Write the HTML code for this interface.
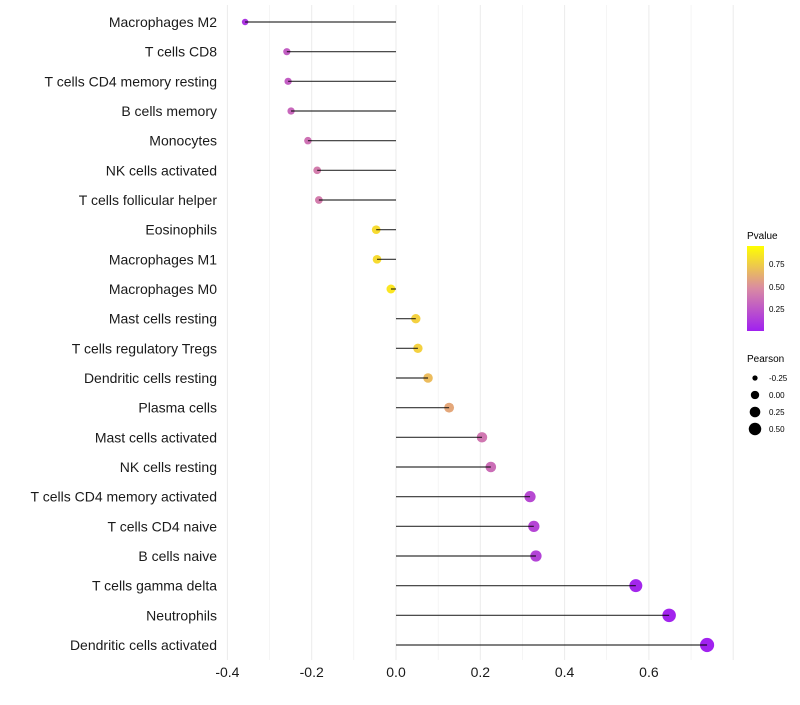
<!DOCTYPE html>
<html><head><meta charset="utf-8"><style>
body{margin:0;background:#fff;font-family:"Liberation Sans",sans-serif}
</style></head><body>
<svg id="chart" width="800" height="700" xmlns="http://www.w3.org/2000/svg" font-family="Liberation Sans, sans-serif">
<defs><linearGradient id="pg" x1="0" y1="1" x2="0" y2="0">
<stop offset="0" stop-color="#a020f0"/><stop offset="0.5" stop-color="#d98aa3"/><stop offset="1" stop-color="#ffff00"/>
</linearGradient></defs>
<g id="grid"></g>
<g id="dots"></g>
<g id="marks"></g>
<g id="labels" style="white-space:pre"></g>
<g id="xt"></g>
<g>
<text x="747" y="239" font-size="10">Pvalue</text>
<rect x="747" y="246" width="17" height="85" fill="url(#pg)"/>
<g font-size="8"><text x="769" y="267">0.75</text><text x="769" y="290">0.50</text><text x="769" y="312">0.25</text></g>
</g>
<g id="sleg">
<text x="747" y="362" font-size="10">Pearson</text>
</g>
</svg>
<script>
const cats=["Macrophages M2","T cells CD8","T cells CD4 memory resting","B cells memory","Monocytes","NK cells activated","T cells follicular helper","Eosinophils","Macrophages M1","Macrophages M0","Mast cells resting","T cells regulatory  Tregs","Dendritic cells resting","Plasma cells","Mast cells activated","NK cells resting","T cells CD4 memory activated","T cells CD4 naive","B cells naive","T cells gamma delta","Neutrophils","Dendritic cells activated"];
const pearson=[-0.358,-0.259,-0.256,-0.249,-0.209,-0.187,-0.183,-0.047,-0.045,-0.012,0.047,0.052,0.076,0.126,0.204,0.225,0.318,0.327,0.332,0.569,0.648,0.738];
const pvalue=[0.1,0.3,0.3,0.35,0.4,0.45,0.45,0.9,0.9,0.95,0.85,0.85,0.75,0.65,0.42,0.38,0.2,0.18,0.17,0.03,0.02,0.01];
const xticks=[-0.4,-0.2,0,0.2,0.4,0.6];
const xtickLabels=["-0.4","-0.2","0.0","0.2","0.4","0.6"];
const legVals=[-0.25,0,0.25,0.5];
const legLabels=["-0.25","0.00","0.25","0.50"];
const NS="http://www.w3.org/2000/svg";
const X=v=>396+v*421.5;
const Y=i=>22+i*(623/(cats.length-1));
const R=v=>Math.max(2,4.5+3.5*v);
const RL=v=>Math.sqrt(Math.max(1,17.5+42.65*v));
function lerp(a,b,t){return a.map((x,i)=>Math.round(x+(b[i]-x)*t));}
function col(p){const c0=[160,32,240],c1=[217,135,165],c2=[255,240,20];
 const c=p<0.5?lerp(c0,c1,p/0.5):lerp(c1,c2,(p-0.5)/0.5);return `rgb(${c})`;}
function mk(t,a,parent){const e=document.createElementNS(NS,t);for(const k in a)e.setAttribute(k,a[k]);parent.appendChild(e);return e;}
const grid=document.getElementById('grid');
for(let v=-0.4;v<=0.81;v+=0.1){const l=mk('line',{x1:X(v),x2:X(v),y1:5,y2:660,stroke:'#ebebeb','stroke-width':Math.abs(Math.round(v*10))%2===0?1:0.5},grid);

}
const dots=document.getElementById('dots'),marks=document.getElementById('marks'),labels=document.getElementById('labels');
cats.forEach((c,i)=>{
 const d=mk('circle',{cx:X(pearson[i]),cy:Y(i),r:R(pearson[i]),fill:col(pvalue[i])},dots);
 
 
 const l=mk('line',{x1:X(0),x2:X(pearson[i]),y1:Y(i),y2:Y(i),stroke:'#000','stroke-width':1.2,'stroke-opacity':0.8},marks);
 
 
 const t=mk('text',{x:217,y:Y(i)+5,'text-anchor':'end','font-size':14,fill:'#1a1a1a'},labels);
 t.textContent=c;
 
 
});
const xt=document.getElementById('xt');
xticks.forEach((v,i)=>{const t=mk('text',{x:X(v),y:677,'text-anchor':'middle','font-size':14,fill:'#1a1a1a'},xt);t.textContent=xtickLabels[i];
 
 });
const sl=document.getElementById('sleg');
legVals.forEach((v,i)=>{const y=378+i*17;
 const c=mk('circle',{cx:755,cy:y,r:RL(v),fill:'#000'},sl);
 
 
 const t=mk('text',{x:769,y:y+3,'font-size':8},sl);t.textContent=legLabels[i];});
</script>
</body></html>
